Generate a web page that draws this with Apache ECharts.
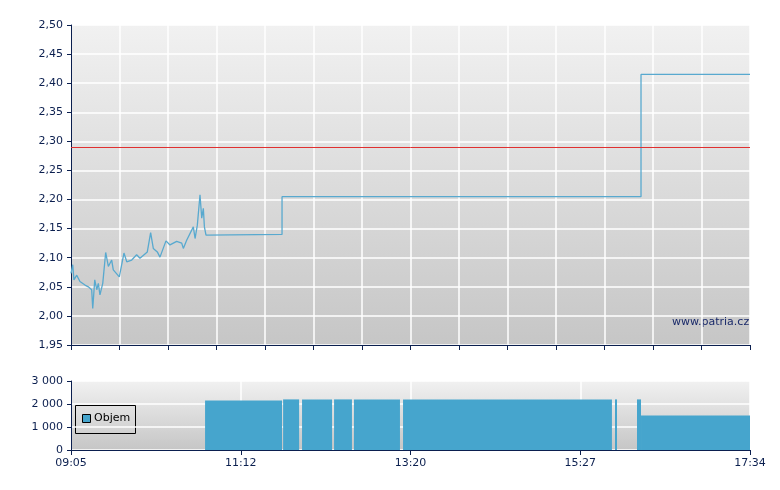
<!DOCTYPE html>
<html>
<head>
<meta charset="utf-8">
<script src="https://cdn.jsdelivr.net/npm/echarts@6/dist/echarts.min.js"></script>
<style>html,body{margin:0;padding:0;background:#fff}#chart{width:780px;height:490px}</style>
</head>
<body>
<div id="chart"></div>
<script>
// čas v minutách od půlnoci
var priceTime = [545, 546.3, 547.2, 549.3, 551.7, 555.5, 558, 560.5, 561.3, 562.8, 564.3, 565.5, 566.7, 568.8, 571, 573, 575.5, 576.7, 581.2, 584.7, 586.8, 590.5, 594.2, 596.7, 602.2, 604.7, 606.7, 609.7, 611.7, 616.2, 619.2, 624.2, 628, 629.2, 631.7, 636.7, 638, 639.7, 641.7, 643, 644.2, 645, 646.2, 703.2, 703.2, 972.3, 972.3, 1054];
var priceValue = [2.073, 2.088, 2.062, 2.070, 2.059, 2.053, 2.050, 2.045, 2.013, 2.062, 2.045, 2.056, 2.036, 2.056, 2.109, 2.085, 2.096, 2.079, 2.067, 2.108, 2.093, 2.096, 2.105, 2.099, 2.110, 2.143, 2.116, 2.110, 2.101, 2.129, 2.122, 2.128, 2.125, 2.116, 2.130, 2.153, 2.133, 2.156, 2.208, 2.168, 2.185, 2.153, 2.139, 2.14, 2.205, 2.205, 2.415, 2.415];
var prevClose = 2.295;
var volStart = [645.5, 704, 718.2, 742.2, 757.1, 793.9, 952.8, 969.3, 972.3];
var volEnd = [703.2, 716, 740.7, 755.6, 791.6, 950.5, 954.3, 972.3, 1054];
var volValue = [2150, 2200, 2200, 2200, 2200, 2200, 2200, 2200, 1500];

var tMin = 545, tMax = 1054;
var navy = '#0b1f4f';
var bg = new echarts.graphic.LinearGradient(0, 0, 0, 1, [
  {offset: 0, color: '#f1f1f1'}, {offset: 1, color: '#c6c6c6'}
]);
function hhmm(v) {
  var m = Math.round(v);
  var h = Math.floor(m / 60), mm = m % 60;
  return (h < 10 ? '0' : '') + h + ':' + (mm < 10 ? '0' : '') + mm;
}
function space(v) {
  return String(v).replace(/\B(?=(\d{3})+(?!\d))/g, ' ');
}

var chart = echarts.init(document.getElementById('chart'));
chart.setOption({
  animation: false,
  grid: [
    {left: 71, right: 30, top: 25, bottom: 145, show: true, backgroundColor: bg, borderWidth: 0},
    {left: 71, right: 30, top: 381, bottom: 40, show: true, backgroundColor: bg, borderWidth: 0}
  ],
  xAxis: [
    {type: 'value', gridIndex: 0, min: tMin, max: tMax, interval: (tMax - tMin) / 14,
      axisLabel: {show: false}, axisLine: {lineStyle: {color: navy}},
      axisTick: {lineStyle: {color: navy}, length: 5},
      splitLine: {lineStyle: {color: '#fff', width: 1.5}}},
    {type: 'value', gridIndex: 1, min: tMin, max: tMax, interval: (tMax - tMin) / 4,
      axisLabel: {formatter: hhmm, color: navy, fontFamily: 'DejaVu Sans', fontSize: 11},
      axisLine: {lineStyle: {color: navy}}, axisTick: {lineStyle: {color: navy}, length: 5},
      splitLine: {lineStyle: {color: '#fff', width: 1.5}}}
  ],
  yAxis: [
    {type: 'value', gridIndex: 0, min: 1.95, max: 2.5, interval: 0.05,
      axisLabel: {formatter: function (v) { return v.toFixed(2).replace('.', ','); }, color: navy, fontFamily: 'DejaVu Sans', fontSize: 11},
      axisLine: {show: true, lineStyle: {color: navy}}, axisTick: {show: true, lineStyle: {color: navy}, length: 4},
      splitLine: {lineStyle: {color: '#fff', width: 1.5}}},
    {type: 'value', gridIndex: 1, min: 0, max: 3000, interval: 1000,
      axisLabel: {formatter: space, color: navy, fontFamily: 'DejaVu Sans', fontSize: 11},
      axisLine: {show: true, lineStyle: {color: navy}}, axisTick: {show: true, lineStyle: {color: navy}, length: 4},
      splitLine: {lineStyle: {color: '#fff', width: 1.5}}}
  ],
  graphic: [
    {type: 'text', left: 672, top: 317, style: {text: 'www.patria.cz', fill: '#1a2a6a', font: '11px DejaVu Sans'}},
    {type: 'rect', left: 75, top: 405, shape: {width: 60, height: 28}, style: {fill: 'transparent', stroke: '#000', lineWidth: 1}},
    {type: 'rect', left: 82, top: 414, shape: {width: 8, height: 8}, style: {fill: '#46a5cd', stroke: '#000', lineWidth: 1}},
    {type: 'text', left: 94, top: 413, style: {text: 'Objem', fill: '#000', font: '11px DejaVu Sans'}}
  ],
  series: [
    {type: 'line', xAxisIndex: 0, yAxisIndex: 0, showSymbol: false,
      data: priceTime.map(function (t, i) { return [t, priceValue[i]]; }),
      lineStyle: {color: '#58a9cf', width: 1.3},
      markLine: {silent: true, symbol: 'none', label: {show: false},
        lineStyle: {color: '#e03030', type: 'solid', width: 1}, data: [{yAxis: prevClose}]}},
    {type: 'custom', xAxisIndex: 1, yAxisIndex: 1,
      data: volStart.map(function (s, i) { return [s, volEnd[i], volValue[i]]; }),
      renderItem: function (params, api) {
        var p0 = api.coord([api.value(0), api.value(2)]);
        var p1 = api.coord([api.value(1), 0]);
        return {type: 'rect', shape: {x: p0[0], y: p0[1], width: p1[0] - p0[0], height: p1[1] - p0[1]},
          style: {fill: '#46a5cd'}};
      }}
  ]
});
</script>
</body>
</html>
